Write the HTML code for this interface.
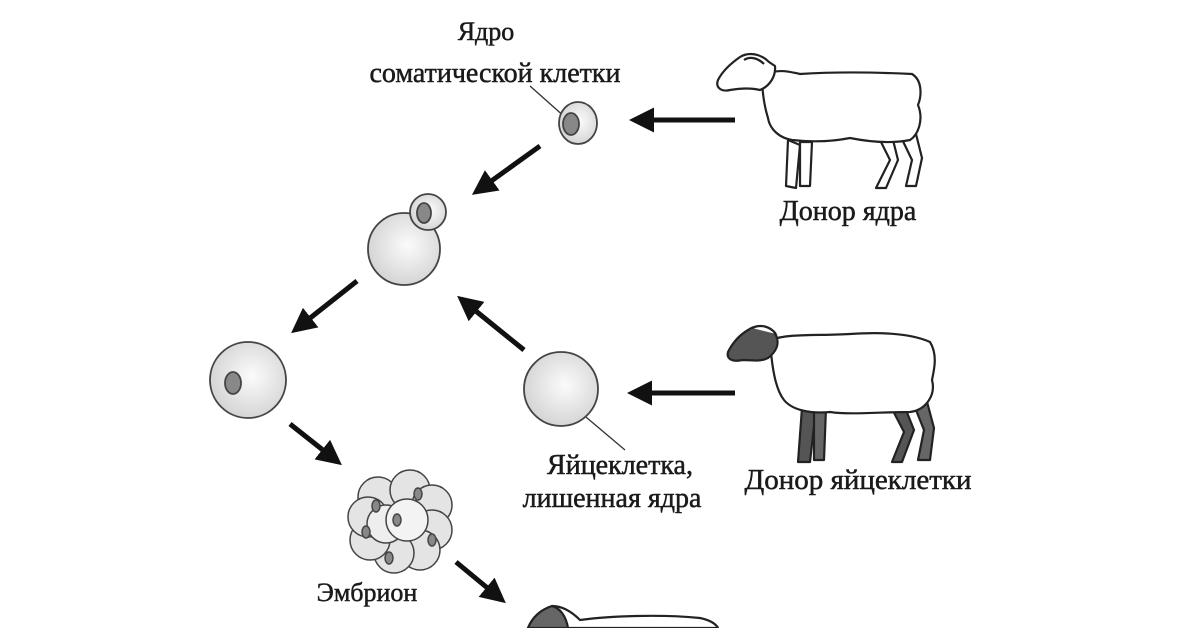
<!DOCTYPE html>
<html><head><meta charset="utf-8"><style>
html,body{margin:0;padding:0;background:#fff;}
svg{display:block}
text{font-family:"Liberation Serif","Noto Serif CJK SC",serif;fill:#1a1a1a;stroke:#1a1a1a;stroke-width:0.5;}
</style></head><body>
<svg width="1200" height="628" viewBox="0 0 1200 628" xmlns="http://www.w3.org/2000/svg">
<defs>
<radialGradient id="g" cx="0.55" cy="0.45" r="0.6">
<stop offset="0" stop-color="#fbfbfb"/><stop offset="1" stop-color="#d2d2d2"/>
</radialGradient>
<marker id="ah" viewBox="0 0 10 10" refX="8" refY="5" markerWidth="5" markerHeight="5" orient="auto" markerUnits="strokeWidth">
<path d="M0,0 L10,5 L0,10 z" fill="#111"/>
</marker>
</defs>

<!-- labels -->
<text x="486" y="40" font-size="26" text-anchor="middle">Ядро</text>
<text x="495" y="82" font-size="28" text-anchor="middle">соматической клетки</text>
<text x="848" y="220" font-size="28" text-anchor="middle">Донор ядра</text>
<text x="858" y="489" font-size="29" text-anchor="middle">Донор яйцеклетки</text>
<text x="620" y="474" font-size="28" text-anchor="middle">Яйцеклетка,</text>
<text x="612" y="507" font-size="28" text-anchor="middle">лишенная ядра</text>
<text x="367" y="601" font-size="26" text-anchor="middle">Эмбрион</text>

<!-- leader lines -->
<line x1="530" y1="86" x2="566" y2="118" stroke="#333" stroke-width="1.3"/>
<line x1="580" y1="412" x2="625" y2="450" stroke="#333" stroke-width="1.3"/>

<!-- arrows -->
<g stroke="#111" stroke-width="5" fill="none" marker-end="url(#ah)">
<line x1="735" y1="120" x2="634" y2="120"/>
<line x1="540" y1="146" x2="476" y2="192"/>
<line x1="357" y1="281" x2="295" y2="330"/>
<line x1="524" y1="350" x2="461" y2="299"/>
<line x1="735" y1="393" x2="632" y2="393"/>
<line x1="290" y1="424" x2="338" y2="462"/>
<line x1="456" y1="562" x2="502" y2="600"/>
</g>

<!-- cells -->
<g stroke="#444" stroke-width="1.8">
<ellipse cx="578" cy="123" rx="19" ry="21" fill="url(#g)"/>
<ellipse cx="571" cy="124" rx="8" ry="11" fill="#888"/>
<circle cx="404" cy="249" r="36" fill="url(#g)"/>
<circle cx="428" cy="212" r="18" fill="url(#g)"/>
<ellipse cx="424" cy="213" rx="7" ry="10" fill="#888"/>
<ellipse cx="248" cy="380" rx="38" ry="38" fill="url(#g)"/>
<ellipse cx="233" cy="383" rx="8" ry="11" fill="#888"/>
<circle cx="561" cy="389" r="37" fill="url(#g)"/>
</g>

<!-- embryo -->
<g stroke="#444" stroke-width="1.5" fill="#e4e4e4">
<circle cx="378" cy="497" r="20"/><circle cx="410" cy="490" r="20"/><circle cx="432" cy="505" r="20"/>
<circle cx="432" cy="530" r="20"/><circle cx="420" cy="550" r="20"/><circle cx="394" cy="553" r="20"/>
<circle cx="370" cy="540" r="20"/><circle cx="368" cy="517" r="20"/>
<circle cx="386" cy="524" r="19" fill="#eee"/><circle cx="407" cy="520" r="21" fill="#f3f3f3"/>
<ellipse cx="418" cy="494" rx="4" ry="6" fill="#888"/><ellipse cx="376" cy="506" rx="4" ry="6" fill="#888"/>
<ellipse cx="397" cy="520" rx="4" ry="6" fill="#888"/><ellipse cx="366" cy="532" rx="4" ry="6" fill="#888"/>
<ellipse cx="432" cy="540" rx="4" ry="6" fill="#888"/><ellipse cx="389" cy="558" rx="4" ry="6" fill="#888"/>
</g>

<!-- sheep 1 -->
<g stroke="#222" stroke-width="2.2" fill="#fff" stroke-linejoin="round">
<path d="M788,140 L786,186 L796,188 L800,145 Z"/>
<path d="M800,142 L800,186 L810,186 L812,142 Z"/>
<path d="M880,140 L890,160 L876,188 L886,188 L898,160 L893,140 Z"/>
<path d="M900,135 L912,160 L906,186 L916,186 L922,158 L915,130 Z"/>
<path d="M762,75 C780,68 790,72 800,74 C830,72 870,72 912,74 C922,80 922,95 918,105 C924,120 918,135 910,140 C890,144 870,142 850,138 C830,142 810,142 792,140 C780,138 770,130 768,118 C764,105 762,90 762,75 Z"/>
<path d="M769,62 C760,53 748,52 740,57 C730,64 722,72 718,80 C715,88 722,92 730,90 C742,88 752,88 760,90 C770,86 776,76 775,66 Z"/>
<path d="M744,60 C750,56 758,58 764,64" fill="none"/>
</g>

<!-- sheep 2 -->
<g stroke="#222" stroke-width="2.2" stroke-linejoin="round">
<path d="M802,408 L798,462 L810,462 L816,408 Z" fill="#555"/>
<path d="M814,408 L814,460 L824,460 L826,408 Z" fill="#666"/>
<path d="M890,405 L904,432 L892,462 L902,462 L914,430 L904,405 Z" fill="#555"/>
<path d="M912,400 L924,430 L918,460 L930,460 L934,428 L926,398 Z" fill="#666"/>
<path d="M770,340 C790,333 820,336 850,334 C880,332 910,333 930,342 C938,355 934,370 932,380 C936,395 926,410 910,412 C880,412 850,415 830,412 C810,414 792,410 784,400 C776,390 772,370 770,340 Z" fill="#fff"/>
<path d="M776,335 C768,326 756,324 748,330 C738,336 732,344 728,352 C726,360 734,362 742,360 C752,360 760,362 768,358 C776,352 780,344 776,335 Z" fill="#555"/>
<path d="M752,328 C760,324 770,326 776,334" fill="#fff"/>
</g>

<!-- sheep 3 (partial, bottom) -->
<g stroke="#222" stroke-width="2.2" stroke-linejoin="round">
<path d="M528,628 C532,618 540,610 552,606 C562,606 572,612 580,620 C610,616 660,614 700,618 C710,620 716,624 718,628 Z" fill="#fff"/>
<path d="M528,628 C532,618 540,610 552,606 C560,608 566,616 568,628 Z" fill="#666"/>
</g>
</svg>
</body></html>
